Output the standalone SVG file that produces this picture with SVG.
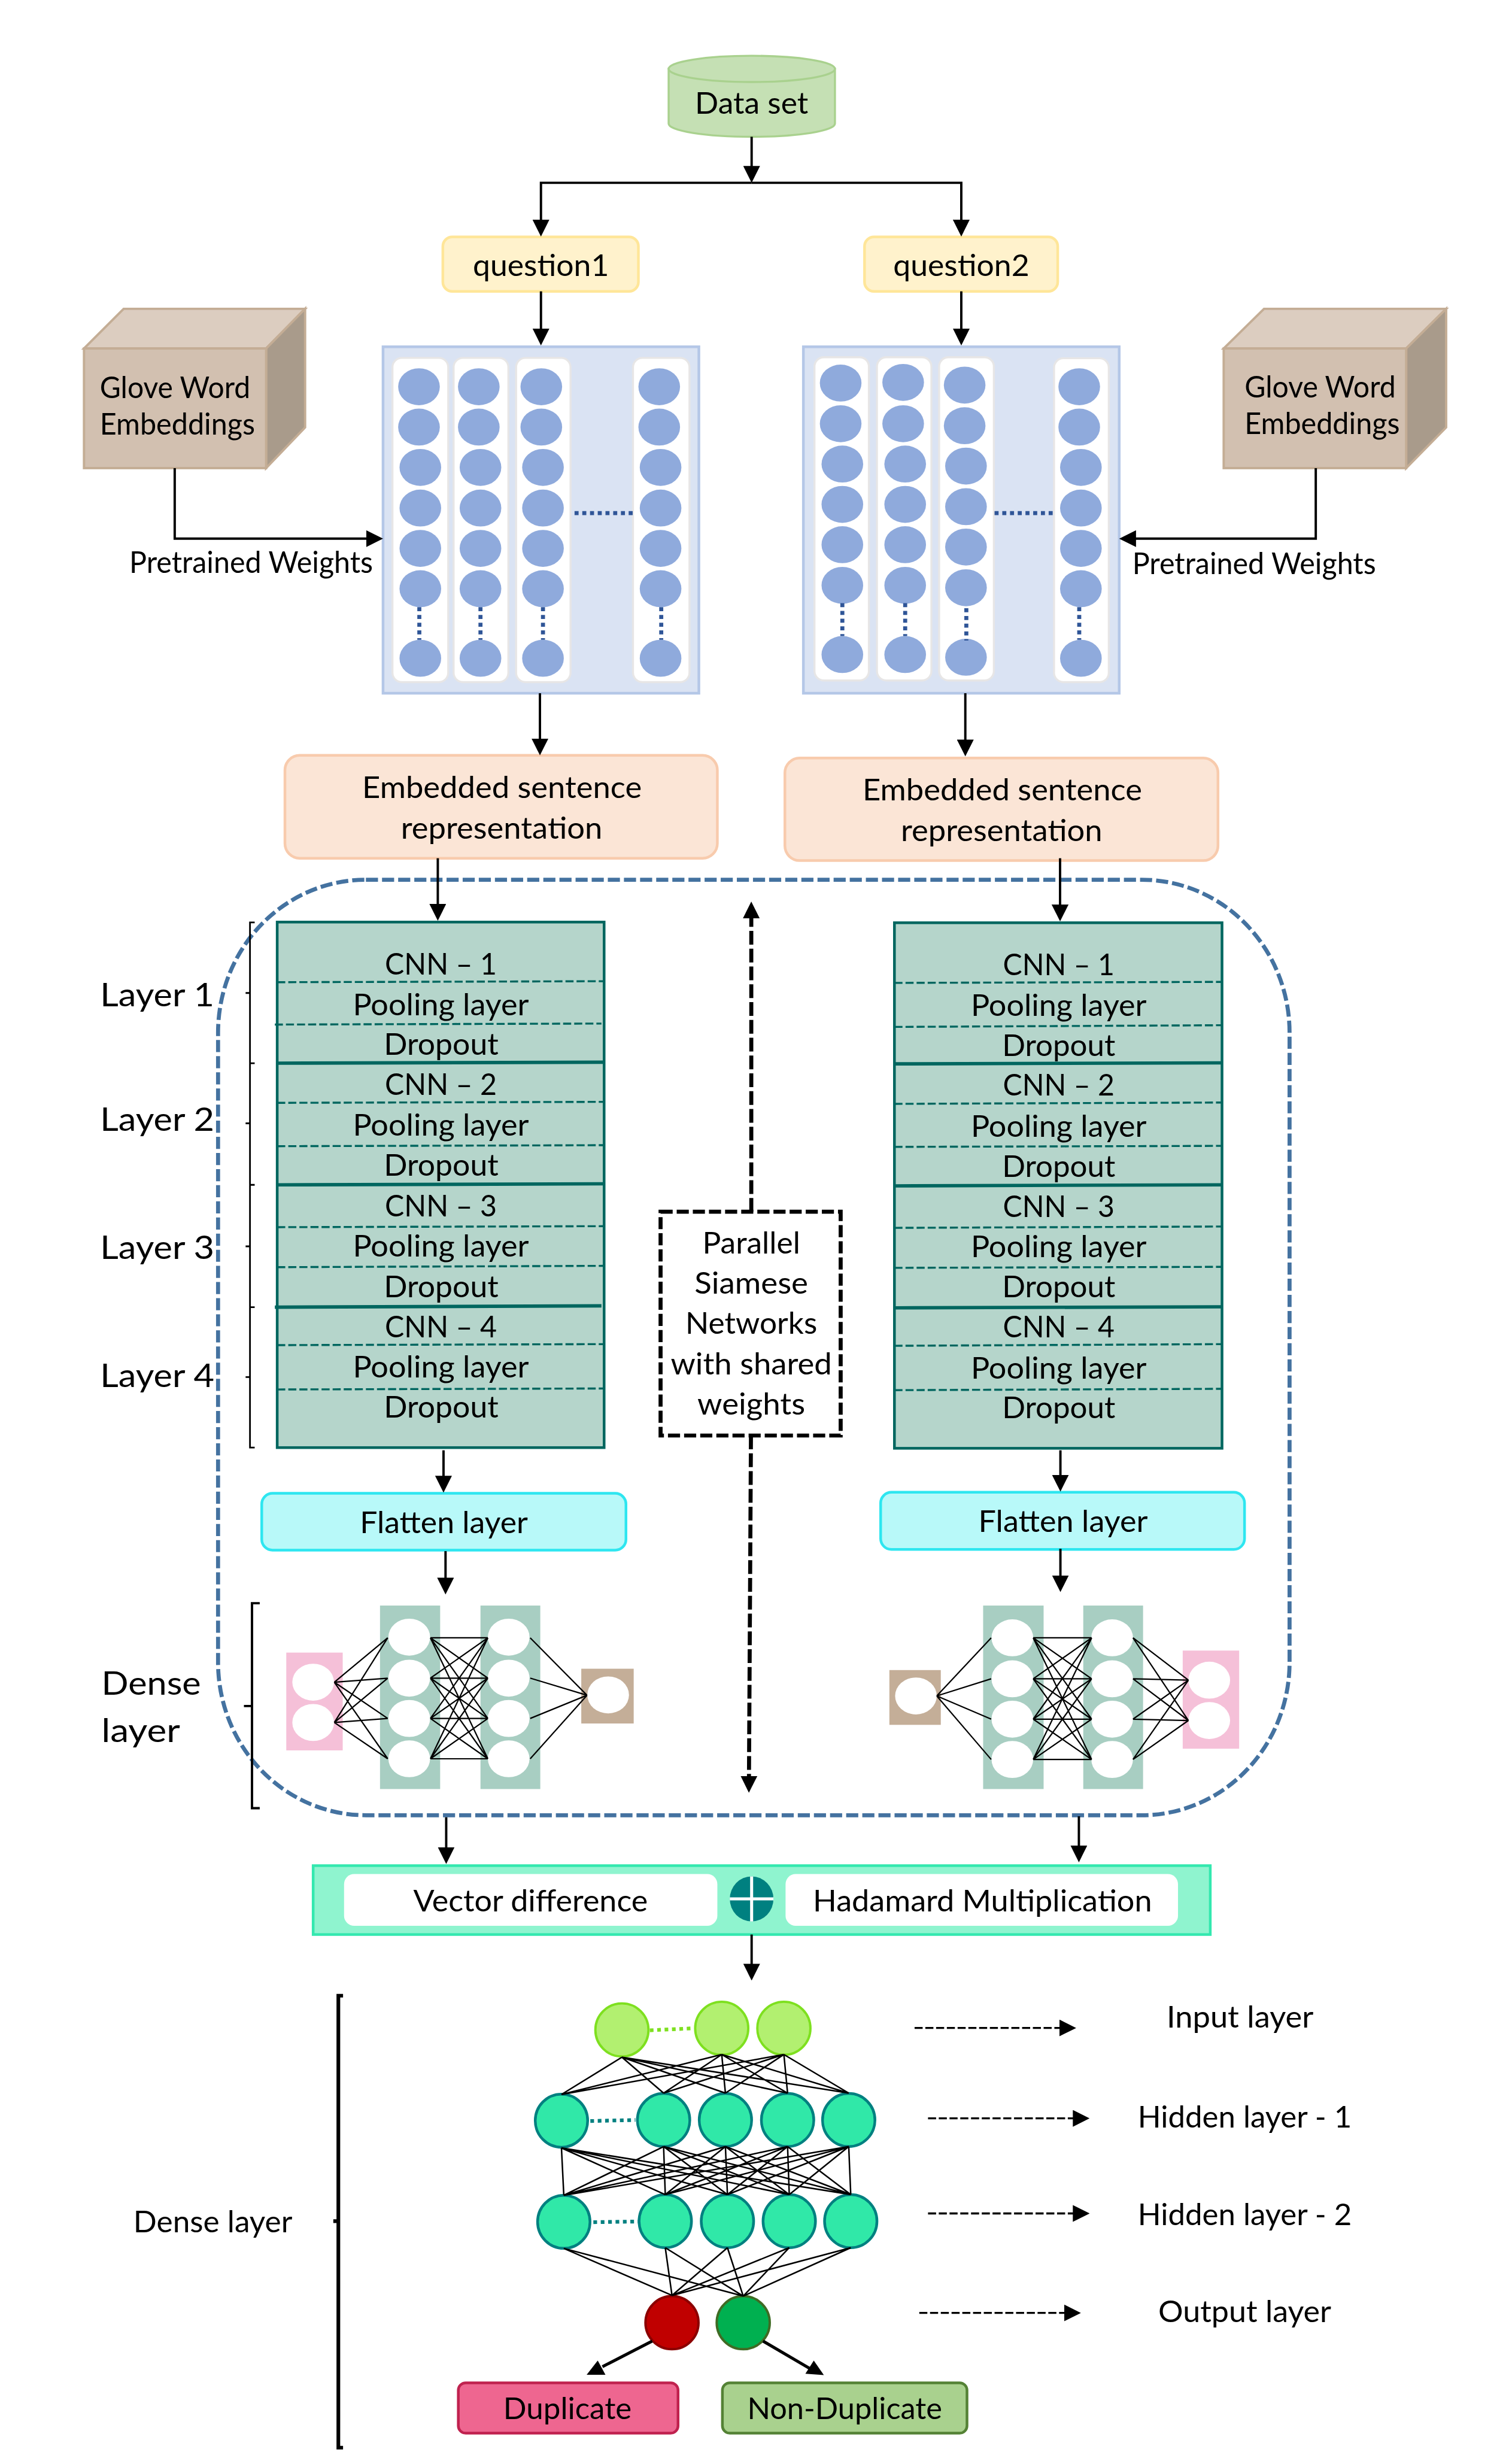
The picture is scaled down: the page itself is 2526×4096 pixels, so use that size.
<svg xmlns="http://www.w3.org/2000/svg" width="2526" height="4096" viewBox="0 0 2526 4096">
<style>
text{font-family:Lato,"Noto Sans",sans-serif;font-size:88px;fill:#000;text-anchor:middle}
.s{text-anchor:start}
.lg{font-size:96px}
.col{fill:#fff;stroke:#e7e6e6;stroke-width:6}
.panel{fill:#dae3f3;stroke:#b4c7e7;stroke-width:8}
.q{fill:#fff2cc;stroke:#ffe699;stroke-width:8}
.emb{fill:#fbe5d6;stroke:#f8cbad;stroke-width:8}
.cnn{fill:#b5d5cb;stroke:#00665f;stroke-width:8}
.dl{fill:none;stroke:#00665f;stroke-width:6;stroke-dasharray:24 9}
.sl{fill:none;stroke:#00665f;stroke-width:10}
.fl{fill:#b8f9f9;stroke:#2ee6f0;stroke-width:8}
.ft{fill:#d2c0b0;stroke:#c4ad95;stroke-width:7}
.tp{fill:#dccdc0;stroke:#c4ad95;stroke-width:7}
.sd{fill:#a99b8b;stroke:#c4ad95;stroke-width:7}
.dot{fill:none;stroke:#2f5597;stroke-width:12;stroke-dasharray:12 11}
.a{fill:none;stroke:#000;stroke-width:7;marker-end:url(#h)}
.da{fill:none;stroke:#000;stroke-width:12;stroke-dasharray:41 12;marker-end:url(#h)}
.la{fill:none;stroke:#000;stroke-width:6;stroke-dasharray:24 8;marker-end:url(#h)}
.w{fill:none;stroke:#000;stroke-width:4}
.w3{fill:none;stroke:#000;stroke-width:4.5}
.br{fill:none;stroke:#000;stroke-width:5}
</style>
<defs>
<marker id="h" markerUnits="userSpaceOnUse" viewBox="0 0 50 50" markerWidth="50" markerHeight="50" refX="20" refY="25" orient="auto"><polygon points="0,0 50,25 0,50" fill="#000"/></marker>
<ellipse id="bn" rx="62" ry="55" fill="#8faadc"/>
<ellipse id="wn" rx="62" ry="55" fill="#fff"/>
<ellipse id="hn" rx="78" ry="79" fill="#30e8a8" stroke="#008080" stroke-width="8"/>
<ellipse id="inn" rx="79" ry="79" fill="#b2f070" stroke="#7ee01f" stroke-width="7"/>
</defs>
<g transform="scale(0.56133)">
<g id="nodes">
<g id="siamese-boundary"><rect x="649" y="2618" width="3189" height="2784" rx="440" ry="455" fill="none" stroke="#4472a0" stroke-width="12" stroke-dasharray="36 12"/></g>
<g id="dataset">
<path d="M1990 205V368A247.5 39 0 0 0 2485 368V205Z" fill="#c5e0b4" stroke="#a9d18e" stroke-width="6"/>
<ellipse cx="2237.5" cy="205" rx="247.5" ry="39" fill="#c5e0b4" stroke="#a9d18e" stroke-width="6"/>
<text x="2237" y="339" textLength="337" lengthAdjust="spacingAndGlyphs">Data set</text>
</g>
<g id="question1"><rect class="q" x="1318" y="705" width="582" height="162" rx="28"/><text x="1610" y="821" textLength="405" lengthAdjust="spacingAndGlyphs">question1</text></g>
<g id="question2"><rect class="q" x="2573" y="705" width="575" height="162" rx="28"/><text x="2861" y="821" textLength="405" lengthAdjust="spacingAndGlyphs">question2</text></g>
<g id="glove-left">
<polygon class="tp" points="250,1037 368,919 908,919 792,1037"/>
<polygon class="sd" points="792,1037 908,919 908,1272 792,1393"/>
<rect class="ft" x="250" y="1037" width="542" height="356"/>
<text class="s" x="297" y="1185" textLength="448" lengthAdjust="spacingAndGlyphs">Glove Word</text>
<text class="s" x="297" y="1294" textLength="462" lengthAdjust="spacingAndGlyphs">Embeddings</text>
</g>
<g id="glove-right">
<polygon class="tp" points="3642,1037 3762,919 4304,919 4185,1037"/>
<polygon class="sd" points="4185,1037 4304,919 4304,1272 4185,1393"/>
<rect class="ft" x="3642" y="1037" width="543" height="356"/>
<text class="s" x="3704" y="1183" textLength="450" lengthAdjust="spacingAndGlyphs">Glove Word</text>
<text class="s" x="3704" y="1292" textLength="462" lengthAdjust="spacingAndGlyphs">Embeddings</text>
</g>
<g id="embedding-left">
<rect class="panel" x="1140" y="1032" width="940" height="1031"/>
<rect class="col" x="1168" y="1065" width="166" height="965" rx="28"/>
<rect class="col" x="1350" y="1065" width="163" height="965" rx="28"/>
<rect class="col" x="1536" y="1065" width="162" height="965" rx="28"/>
<rect class="col" x="1884" y="1065" width="168" height="965" rx="28"/>
<use href="#bn" x="1247" y="1151"/><use href="#bn" x="1247" y="1271"/><use href="#bn" x="1251" y="1391"/><use href="#bn" x="1251" y="1512"/><use href="#bn" x="1251" y="1632"/><use href="#bn" x="1251" y="1752"/><use href="#bn" x="1251" y="1959"/>
<use href="#bn" x="1425" y="1151"/><use href="#bn" x="1425" y="1271"/><use href="#bn" x="1430" y="1391"/><use href="#bn" x="1430" y="1512"/><use href="#bn" x="1430" y="1632"/><use href="#bn" x="1430" y="1752"/><use href="#bn" x="1430" y="1959"/>
<use href="#bn" x="1611" y="1151"/><use href="#bn" x="1611" y="1271"/><use href="#bn" x="1616" y="1391"/><use href="#bn" x="1616" y="1512"/><use href="#bn" x="1616" y="1632"/><use href="#bn" x="1616" y="1752"/><use href="#bn" x="1616" y="1959"/>
<use href="#bn" x="1962" y="1151"/><use href="#bn" x="1962" y="1271"/><use href="#bn" x="1966" y="1391"/><use href="#bn" x="1966" y="1512"/><use href="#bn" x="1966" y="1632"/><use href="#bn" x="1966" y="1752"/><use href="#bn" x="1966" y="1959"/>
<path class="dot" d="M1248 1807V1904M1430 1807V1904M1616 1807V1904M1968 1807V1904M1710 1527H1884"/>
</g>
<g id="embedding-right">
<rect class="panel" x="2391" y="1032" width="940" height="1031"/>
<rect class="col" x="2424" y="1063" width="162" height="962" rx="28"/>
<rect class="col" x="2610" y="1063" width="162" height="962" rx="28"/>
<rect class="col" x="2795" y="1063" width="163" height="962" rx="28"/>
<rect class="col" x="3137" y="1066" width="163" height="964" rx="28"/>
<use href="#bn" x="2502" y="1140"/><use href="#bn" x="2502" y="1261"/><use href="#bn" x="2507" y="1381"/><use href="#bn" x="2507" y="1501"/><use href="#bn" x="2507" y="1621"/><use href="#bn" x="2507" y="1742"/><use href="#bn" x="2507" y="1948"/>
<use href="#bn" x="2688" y="1138"/><use href="#bn" x="2688" y="1261"/><use href="#bn" x="2694" y="1381"/><use href="#bn" x="2694" y="1501"/><use href="#bn" x="2694" y="1621"/><use href="#bn" x="2694" y="1742"/><use href="#bn" x="2694" y="1948"/>
<use href="#bn" x="2871" y="1146"/><use href="#bn" x="2871" y="1267"/><use href="#bn" x="2875" y="1387"/><use href="#bn" x="2875" y="1508"/><use href="#bn" x="2875" y="1628"/><use href="#bn" x="2875" y="1749"/><use href="#bn" x="2875" y="1956"/>
<use href="#bn" x="3212" y="1151"/><use href="#bn" x="3212" y="1271"/><use href="#bn" x="3217" y="1391"/><use href="#bn" x="3217" y="1512"/><use href="#bn" x="3217" y="1632"/><use href="#bn" x="3217" y="1752"/><use href="#bn" x="3217" y="1959"/>
<path class="dot" d="M2507 1795V1893M2694 1795V1893M2876 1810V1906M3212 1807V1904M2960 1527H3134"/>
</g>
<text id="pretrained-left-label" class="s" x="385" y="1705" textLength="725" lengthAdjust="spacingAndGlyphs">Pretrained Weights</text>
<text id="pretrained-right-label" class="s" x="3370" y="1708" textLength="725" lengthAdjust="spacingAndGlyphs">Pretrained Weights</text>
<g id="embedded-left"><rect class="emb" x="848" y="2248" width="1287" height="306" rx="44"/><text x="1494" y="2374" textLength="832" lengthAdjust="spacingAndGlyphs">Embedded sentence</text><text x="1493" y="2495" textLength="600" lengthAdjust="spacingAndGlyphs">representation</text></g>
<g id="embedded-right"><rect class="emb" x="2336" y="2256" width="1289" height="305" rx="44"/><text x="2983" y="2382" textLength="832" lengthAdjust="spacingAndGlyphs">Embedded sentence</text><text x="2981" y="2503" textLength="600" lengthAdjust="spacingAndGlyphs">representation</text></g>
<g id="layer-labels">
<text class="s lg" x="298" y="2995" textLength="340" lengthAdjust="spacingAndGlyphs">Layer 1</text>
<text class="s lg" x="298" y="3365" textLength="340" lengthAdjust="spacingAndGlyphs">Layer 2</text>
<text class="s lg" x="298" y="3746" textLength="340" lengthAdjust="spacingAndGlyphs">Layer 3</text>
<text class="s lg" x="298" y="4127" textLength="340" lengthAdjust="spacingAndGlyphs">Layer 4</text>
<path class="br" d="M758 2745H744V4308H758M744 3164H758M744 3526H758M744 3890H758M731 2955H744M731 3343H744M731 3709H744M731 4098H744"/>
</g>
<g id="cnn-left">
<rect class="cnn" x="825" y="2744" width="973" height="1564"/>
<path class="dl" d="M825 2923L1798 2920M818 3049L1790 3046M825 3282L1798 3279M825 3411L1798 3408M825 3652L1798 3649M825 3771L1798 3767M825 4003L1798 4000M825 4135L1798 4132"/>
<path class="sl" d="M825 3164L1798 3161M825 3526L1798 3523M818 3890L1790 3886"/>
<text x="1312" y="2900" textLength="333" lengthAdjust="spacingAndGlyphs">CNN – 1</text><text x="1312" y="3021" textLength="524" lengthAdjust="spacingAndGlyphs">Pooling layer</text><text x="1313" y="3139" textLength="341" lengthAdjust="spacingAndGlyphs">Dropout</text>
<text x="1312" y="3258" textLength="333" lengthAdjust="spacingAndGlyphs">CNN – 2</text><text x="1312" y="3380" textLength="524" lengthAdjust="spacingAndGlyphs">Pooling layer</text><text x="1313" y="3499" textLength="341" lengthAdjust="spacingAndGlyphs">Dropout</text>
<text x="1312" y="3620" textLength="333" lengthAdjust="spacingAndGlyphs">CNN – 3</text><text x="1312" y="3739" textLength="524" lengthAdjust="spacingAndGlyphs">Pooling layer</text><text x="1313" y="3860" textLength="341" lengthAdjust="spacingAndGlyphs">Dropout</text>
<text x="1312" y="3979" textLength="333" lengthAdjust="spacingAndGlyphs">CNN – 4</text><text x="1312" y="4100" textLength="524" lengthAdjust="spacingAndGlyphs">Pooling layer</text><text x="1313" y="4219" textLength="341" lengthAdjust="spacingAndGlyphs">Dropout</text>
</g>
<g id="cnn-right">
<rect class="cnn" x="2662" y="2746" width="975" height="1564"/>
<path class="dl" d="M2662 2925L3637 2922M2662 3056L3637 3051M2662 3285L3637 3281M2662 3413L3637 3410M2662 3654L3637 3650M2662 3773L3637 3770M2662 4005L3637 4000M2662 4137L3637 4133"/>
<path class="sl" d="M2662 3166L3637 3163M2662 3529L3637 3526M2662 3892L3637 3889"/>
<text x="3151" y="2902" textLength="332" lengthAdjust="spacingAndGlyphs">CNN – 1</text><text x="3151" y="3023" textLength="523" lengthAdjust="spacingAndGlyphs">Pooling layer</text><text x="3151" y="3142" textLength="337" lengthAdjust="spacingAndGlyphs">Dropout</text>
<text x="3151" y="3261" textLength="332" lengthAdjust="spacingAndGlyphs">CNN – 2</text><text x="3151" y="3383" textLength="523" lengthAdjust="spacingAndGlyphs">Pooling layer</text><text x="3151" y="3502" textLength="337" lengthAdjust="spacingAndGlyphs">Dropout</text>
<text x="3151" y="3621" textLength="332" lengthAdjust="spacingAndGlyphs">CNN – 3</text><text x="3151" y="3742" textLength="523" lengthAdjust="spacingAndGlyphs">Pooling layer</text><text x="3151" y="3860" textLength="337" lengthAdjust="spacingAndGlyphs">Dropout</text>
<text x="3151" y="3980" textLength="332" lengthAdjust="spacingAndGlyphs">CNN – 4</text><text x="3151" y="4102" textLength="523" lengthAdjust="spacingAndGlyphs">Pooling layer</text><text x="3151" y="4220" textLength="337" lengthAdjust="spacingAndGlyphs">Dropout</text>
</g>
<g id="parallel-label">
<rect x="1966" y="3606" width="536" height="666" fill="#fff" stroke="#000" stroke-width="12" stroke-dasharray="36 12"/>
<text x="2236" y="3731" textLength="291" lengthAdjust="spacingAndGlyphs">Parallel</text>
<text x="2236" y="3850" textLength="338" lengthAdjust="spacingAndGlyphs">Siamese</text>
<text x="2236" y="3970" textLength="392" lengthAdjust="spacingAndGlyphs">Networks</text>
<text x="2236" y="4090" textLength="480" lengthAdjust="spacingAndGlyphs">with shared</text>
<text x="2236" y="4210" textLength="321" lengthAdjust="spacingAndGlyphs">weights</text>
</g>
<g id="flatten-left"><rect class="fl" x="779" y="4444" width="1084" height="169" rx="32"/><text x="1321" y="4563" textLength="500" lengthAdjust="spacingAndGlyphs">Flatten layer</text></g>
<g id="flatten-right"><rect class="fl" x="2621" y="4441" width="1083" height="170" rx="32"/><text x="3164" y="4558" textLength="504" lengthAdjust="spacingAndGlyphs">Flatten layer</text></g>
<g id="dense-left">
<text class="s lg" x="302" y="5044" textLength="296" lengthAdjust="spacingAndGlyphs">Dense</text>
<text class="s lg" x="302" y="5185" textLength="234" lengthAdjust="spacingAndGlyphs">layer</text>
<path d="M773 4771H750V5381H773M726 5077H750" fill="none" stroke="#000" stroke-width="7"/>
<rect x="852" y="4918" width="168" height="291" fill="#f5c0d8"/>
<rect x="1131" y="4778" width="179" height="546" fill="#a8cec2"/>
<rect x="1430" y="4778" width="178" height="546" fill="#a8cec2"/>
<rect x="1730" y="4966" width="156" height="163" fill="#c4ae98"/>
<use href="#wn" x="932" y="5006"/><use href="#wn" x="932" y="5126"/>
<use href="#wn" x="1218" y="4872"/><use href="#wn" x="1218" y="4994"/><use href="#wn" x="1218" y="5114"/><use href="#wn" x="1218" y="5234"/>
<use href="#wn" x="1514" y="4872"/><use href="#wn" x="1514" y="4994"/><use href="#wn" x="1514" y="5114"/><use href="#wn" x="1514" y="5234"/>
<use href="#wn" x="1810" y="5044"/>
</g>
<g id="dense-right">
<rect x="2647" y="4970" width="153" height="163" fill="#c4ae98"/>
<rect x="2926" y="4778" width="180" height="546" fill="#a8cec2"/>
<rect x="3224" y="4778" width="178" height="546" fill="#a8cec2"/>
<rect x="3520" y="4912" width="168" height="292" fill="#f5c0d8"/>
<use href="#wn" x="2726" y="5047"/>
<use href="#wn" x="3013" y="4874"/><use href="#wn" x="3013" y="4996"/><use href="#wn" x="3013" y="5116"/><use href="#wn" x="3013" y="5236"/>
<use href="#wn" x="3310" y="4874"/><use href="#wn" x="3310" y="4996"/><use href="#wn" x="3310" y="5116"/><use href="#wn" x="3310" y="5236"/>
<use href="#wn" x="3599" y="5000"/><use href="#wn" x="3599" y="5120"/>
</g>
<g id="merge">
<rect x="932" y="5552" width="2670" height="205" fill="#8ff4cf" stroke="#33e8af" stroke-width="8"/>
<rect x="1024" y="5577" width="1111" height="154" rx="30" fill="#fff"/>
<rect x="2338" y="5577" width="1168" height="154" rx="30" fill="#fff"/>
<ellipse cx="2237" cy="5651" rx="65" ry="67" fill="#008080"/>
<path d="M2172 5651H2302M2237 5584V5718" stroke="#fff" stroke-width="9" fill="none"/>
<text x="1579" y="5688" textLength="698" lengthAdjust="spacingAndGlyphs">Vector difference</text>
<text x="2924" y="5688" textLength="1009" lengthAdjust="spacingAndGlyphs">Hadamard Multiplication</text>
</g>
<g id="dense-final-label">
<text class="s" x="397" y="6644" textLength="473" lengthAdjust="spacingAndGlyphs">Dense layer</text>
<path d="M1021 5939H1007V7284H1021M992 6610H1007" fill="none" stroke="#000" stroke-width="11"/>
</g>
<g id="input-layer"><use href="#inn" x="1851" y="6041"/><use href="#inn" x="2148" y="6036"/><use href="#inn" x="2333" y="6036"/><path d="M1934 6042L2065 6036" fill="none" stroke="#7ee01f" stroke-width="11" stroke-dasharray="11 11"/></g>
<g id="hidden-layer-1"><use href="#hn" x="1671" y="6311"/><use href="#hn" x="1975" y="6309"/><use href="#hn" x="2159" y="6309"/><use href="#hn" x="2344" y="6309"/><use href="#hn" x="2526" y="6309"/><path d="M1757 6312L1891 6309" fill="none" stroke="#008080" stroke-width="11" stroke-dasharray="11 11"/></g>
<g id="hidden-layer-2"><use href="#hn" x="1678" y="6612"/><use href="#hn" x="1980" y="6610"/><use href="#hn" x="2165" y="6610"/><use href="#hn" x="2349" y="6610"/><use href="#hn" x="2532" y="6610"/><path d="M1766 6613L1900 6611" fill="none" stroke="#008080" stroke-width="11" stroke-dasharray="11 11"/></g>
<g id="output-layer"><ellipse cx="2000" cy="6912" rx="79" ry="79" fill="#c00000" stroke="#8b0000" stroke-width="7"/><ellipse cx="2212" cy="6912" rx="79" ry="79" fill="#00b050" stroke="#3f6b24" stroke-width="7"/></g>
<g id="duplicate"><rect x="1364" y="7091" width="654" height="150" rx="22" fill="#ee6690" stroke="#c0224f" stroke-width="8"/><text x="1689" y="7199" textLength="382" lengthAdjust="spacingAndGlyphs">Duplicate</text></g>
<g id="non-duplicate"><rect x="2150" y="7091" width="728" height="150" rx="22" fill="#a9d18e" stroke="#548235" stroke-width="8"/><text class="s" x="2224" y="7199" textLength="580" lengthAdjust="spacingAndGlyphs">Non-Duplicate</text></g>
<g id="legend">
<text class="s" x="3472" y="6033" textLength="437" lengthAdjust="spacingAndGlyphs">Input layer</text>
<text class="s" x="3386" y="6331" textLength="637" lengthAdjust="spacingAndGlyphs">Hidden layer - 1</text>
<text class="s" x="3386" y="6621" textLength="637" lengthAdjust="spacingAndGlyphs">Hidden layer - 2</text>
<text class="s" x="3447" y="6910" textLength="515" lengthAdjust="spacingAndGlyphs">Output layer</text>
</g>
</g>
<g id="connectors">
<path class="a" d="M2237 407V514"/>
<path class="a" d="M2237 544H1610V674"/>
<path class="a" d="M2237 544H2861V674"/>
<path class="a" d="M1610 867V998"/>
<path class="a" d="M2861 867V998"/>
<path class="a" d="M520 1393V1603H1110"/>
<path class="a" d="M3916 1393V1603H3361"/>
<path class="a" d="M1607 2063V2218"/>
<path class="a" d="M2873 2063V2221"/>
<path class="a" d="M1303 2554V2710"/>
<path class="a" d="M3155 2554V2712"/>
<path class="a" d="M1320 4316V4412"/>
<path class="a" d="M3156 4316V4409"/>
<path class="a" d="M1326 4616V4715"/>
<path class="a" d="M3156 4609V4708"/>
<path class="a" d="M1328 5408V5517"/>
<path class="a" d="M3211 5405V5512"/>
<path class="a" d="M2237 5757V5864"/>
<path class="da" d="M2236 3606V2713"/>
<path class="da" d="M2235 4272L2229 5305"/>
<path class="la" d="M2722 6035H3173"/>
<path class="la" d="M2762 6304H3213"/>
<path class="la" d="M2762 6587H3213"/>
<path class="la" d="M2736 6883H3187"/>
<path class="w" d="M995 5006L1154 4874M995 5006L1154 4994M995 5006L1154 5114M995 5006L1154 5234M995 5126L1154 4874M995 5126L1154 4994M995 5126L1154 5114M995 5126L1154 5234"/>
<path class="w" d="M1281 4874L1452 4874M1281 4874L1452 4994M1281 4874L1452 5114M1281 4874L1452 5234M1281 4994L1452 4874M1281 4994L1452 4994M1281 4994L1452 5114M1281 4994L1452 5234M1281 5114L1452 4874M1281 5114L1452 4994M1281 5114L1452 5114M1281 5114L1452 5234M1281 5234L1452 4874M1281 5234L1452 4994M1281 5234L1452 5114M1281 5234L1452 5234"/>
<path class="w" d="M1578 4874L1747 5045M1578 4994L1747 5045M1578 5114L1747 5045M1578 5234L1747 5045"/>
<path class="w" d="M2788 5047L2950 4874M2788 5047L2950 4996M2788 5047L2950 5116M2788 5047L2950 5236"/>
<path class="w" d="M3075 4874L3249 4874M3075 4874L3249 4996M3075 4874L3249 5116M3075 4874L3249 5236M3075 4996L3249 4874M3075 4996L3249 4996M3075 4996L3249 5116M3075 4996L3249 5236M3075 5116L3249 4874M3075 5116L3249 4996M3075 5116L3249 5116M3075 5116L3249 5236M3075 5236L3249 4874M3075 5236L3249 4996M3075 5236L3249 5116M3075 5236L3249 5236"/>
<path class="w" d="M3372 4874L3537 5000M3372 4874L3537 5120M3372 4996L3537 5000M3372 4996L3537 5120M3372 5116L3537 5000M3372 5116L3537 5120M3372 5236L3537 5000M3372 5236L3537 5120"/>
<path class="w3" d="M1851 6122L1671 6233M1851 6122L1975 6229M1851 6122L2159 6229M1851 6122L2344 6229M1851 6122L2526 6229M2148 6114L1671 6233M2148 6114L1975 6229M2148 6114L2159 6229M2148 6114L2344 6229M2148 6114L2526 6229M2333 6114L1671 6233M2333 6114L1975 6229M2333 6114L2159 6229M2333 6114L2344 6229M2333 6114L2526 6229"/>
<path class="w3" d="M1671 6392L1678 6533M1671 6392L1980 6531M1671 6392L2165 6531M1671 6392L2349 6531M1671 6392L2532 6531M1975 6388L1678 6533M1975 6388L1980 6531M1975 6388L2165 6531M1975 6388L2349 6531M1975 6388L2532 6531M2159 6388L1678 6533M2159 6388L1980 6531M2159 6388L2165 6531M2159 6388L2349 6531M2159 6388L2532 6531M2344 6388L1678 6533M2344 6388L1980 6531M2344 6388L2165 6531M2344 6388L2349 6531M2344 6388L2532 6531M2526 6388L1678 6533M2526 6388L1980 6531M2526 6388L2165 6531M2526 6388L2349 6531M2526 6388L2532 6531"/>
<path class="w3" d="M1678 6691L2000 6831M1678 6691L2212 6833M1980 6689L2000 6831M1980 6689L2212 6833M2165 6689L2000 6831M2165 6689L2212 6833M2349 6689L2000 6831M2349 6689L2212 6833M2532 6689L2000 6831M2532 6689L2212 6833"/>
<path d="M1941 6967L1793 7043" fill="none" stroke="#000" stroke-width="9"/>
<polygon points="1779,7025 1746,7067 1802,7067" fill="#000"/>
<path d="M2271 6967L2418 7053" fill="none" stroke="#000" stroke-width="9"/>
<polygon points="2422,7025 2397,7064 2452,7068" fill="#000"/>
</g>
</g>
</svg>
